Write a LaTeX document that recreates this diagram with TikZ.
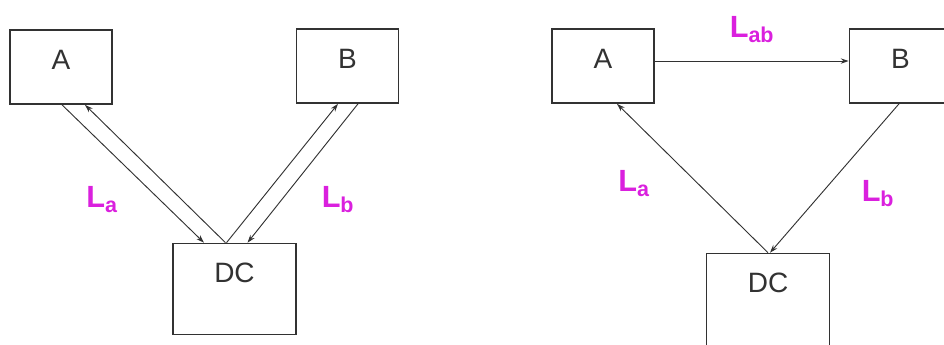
\documentclass[tikz,border=0pt]{standalone}
\usepackage{fontspec}
\setmainfont{Liberation Sans}
\usetikzlibrary{arrows.meta,calc}

\definecolor{labelmag}{RGB}{218,32,222}
\definecolor{boxgray}{RGB}{50,50,50}

\begin{document}
\begin{tikzpicture}[x=0.75pt,y=0.75pt,yscale=-1,xscale=1,
  box/.style={draw=boxgray,line width=1.2pt,inner sep=0pt,minimum width=76.5pt,
    text height=29.25pt,text depth=26.25pt,text=boxgray,font=\fontsize{21}{24}\selectfont},
  dcbox/.style={box,minimum width=92pt,text height=29.25pt,text depth=39pt},
  link/.style={draw=boxgray,line width=0.7pt,-{Stealth[length=6pt,width=4pt]}},
  lab/.style={text=labelmag,inner sep=0.75pt,font=\fontsize{23}{26}\selectfont\bfseries}]
\useasboundingbox (0,0) rectangle (944,344);

%Shapes: left panel
\draw (61,67) node [box] (la) {A};
\draw (347.5,66) node [box] (lb) {B};
\draw (234.5,289) node [dcbox] (ldc) {DC};

%Straight Lines
\draw [link] ($(la.south)+(1,0)$) -- ($(ldc.north)+(-30.5,0)$) ;
\draw [link] ($(ldc.north)+(-9,0)$) -- ($(la.south)+(24,0)$) ;
\draw [link] ($(ldc.north)+(-8,0)$) -- ($(lb.south)+(-9.5,0)$) ;
\draw [link] ($(lb.south)+(10.5,0)$) -- ($(ldc.north)+(13,0)$) ;

% Text Node
\draw (102,200) node [lab] (lla) {L\textsubscript{a}};
% Text Node
\draw (338,200) node [lab] (llb) {L\textsubscript{b}};

%Shapes: right panel
\draw (603,66) node [box] (ra) {A};
\draw (900.5,66) node [box] (rb) {B};
\draw (768,309) node [dcbox,text depth=54pt] (rdc) {DC};

%Straight Lines
\draw [link] ($(ra.east)+(0,-5)$) -- ($(rb.west)+(0,-5)$) ;
\draw [link] (rdc.north) -- ($(ra.south)+(14,0)$) ;
\draw [link] ($(rb.south)+(-1.5,0)$) -- ($(rdc.north)+(2,0)$) ;

% Text Node
\draw (752,30) node [lab] (rlab) {L\textsubscript{ab}};
% Text Node
\draw (634,184) node [lab] (rla) {L\textsubscript{a}};
% Text Node
\draw (878,194) node [lab] (rlb) {L\textsubscript{b}};

\end{tikzpicture}
\end{document}
